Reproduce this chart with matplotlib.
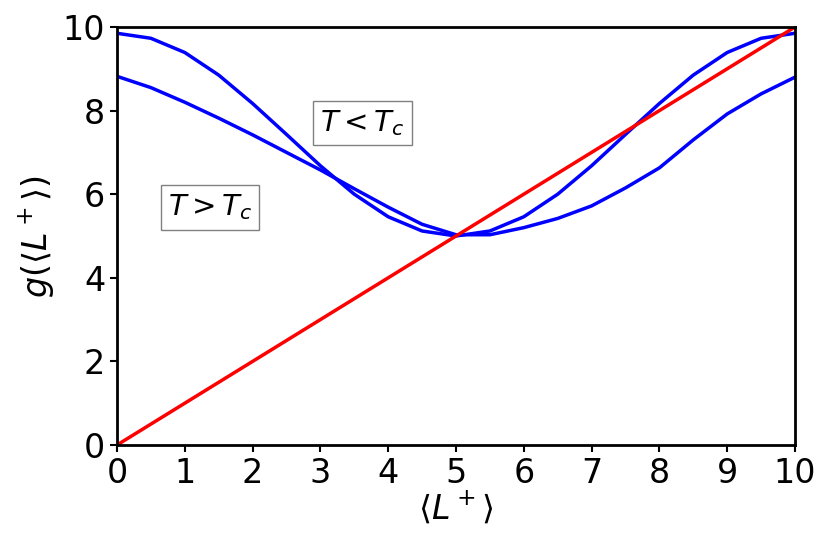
import matplotlib
matplotlib.use("Agg")
import matplotlib.pyplot as plt

x = [0, 0.5, 1, 1.5, 2, 2.5, 3, 3.5, 4, 4.5, 5, 5.5, 6, 6.5, 7, 7.5, 8, 8.5, 9, 9.5, 10]
g_low_T = [9.85, 9.73, 9.39, 8.85, 8.17, 7.43, 6.68, 6.00, 5.46, 5.12, 5.00, 5.12, 5.46, 6.00, 6.68, 7.43, 8.17, 8.85, 9.39, 9.73, 9.85]
g_high_T = [8.82, 8.55, 8.2, 7.82, 7.42, 7.0, 6.58, 6.13, 5.69, 5.28, 5.03, 5.03, 5.2, 5.42, 5.72, 6.15, 6.63, 7.3, 7.92, 8.4, 8.8]
diag_x = [0, 10]
diag_y = [0, 10]

fig = plt.figure(figsize=(8.3, 5.49), dpi=100)
ax = fig.add_axes([117/830, 1-445/549, (795-117)/830, (445-27)/549])
ax.plot(x, g_low_T, color="blue", lw=2.5)
ax.plot(x, g_high_T, color="blue", lw=2.5)
ax.plot(diag_x, diag_y, color="red", lw=2.5)
ax.set_xlim(0, 10)
ax.set_ylim(0, 10)
ax.set_xticks(range(0, 11))
ax.set_yticks(range(0, 11, 2))
ax.tick_params(labelsize=24, width=1.5, length=5)
for s in ax.spines.values():
    s.set_linewidth(2)
ax.set_xlabel(r"$\langle L^+\rangle$", fontsize=24, labelpad=0)
ax.set_ylabel(r"$g(\langle L^+\rangle)$", fontsize=24)
box = dict(facecolor="white", edgecolor="gray", boxstyle="square,pad=0.25")
ax.text(3.0, 7.7, r"$T < T_c$", fontsize=21, bbox=box, va="center")
ax.text(0.75, 5.68, r"$T > T_c$", fontsize=21, bbox=box, va="center")
fig.savefig("out.png", dpi=100)
